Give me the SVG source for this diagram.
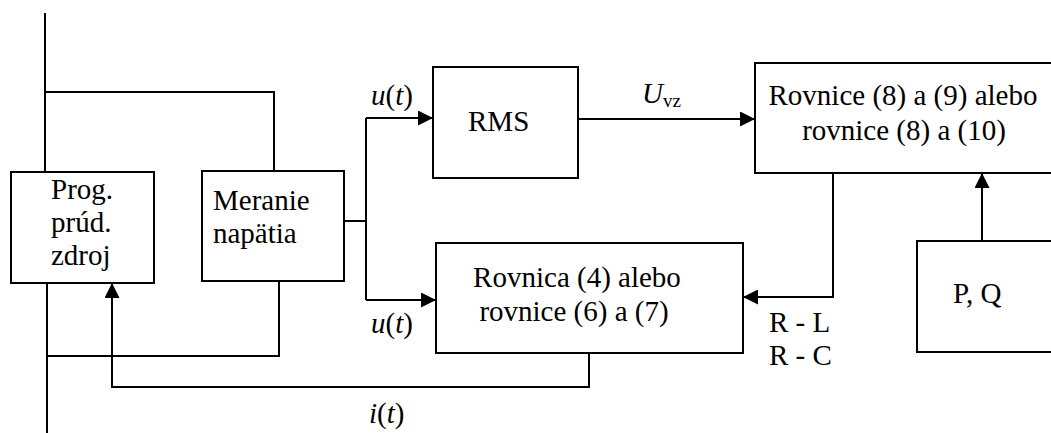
<svg xmlns="http://www.w3.org/2000/svg" width="1051" height="433" viewBox="0 0 1051 433">
<style>
.box{fill:#fff;stroke:#000;stroke-width:2}
.ln{fill:none;stroke:#000;stroke-width:2}
text{font-family:"Liberation Serif","Times New Roman",serif;font-size:29px;fill:#000}
.it{font-style:italic}
.sub{font-size:19px}
</style>
<defs>
<marker id="ah" viewBox="0 0 15 15" markerWidth="15" markerHeight="15" markerUnits="userSpaceOnUse" refX="15" refY="7.5" orient="auto">
<path d="M0,0 L15,7.5 L0,15 z" fill="#000"/>
</marker>
</defs>
<g id="connectors">
<path class="ln" d="M45,13 V172"/>
<path class="ln" d="M45,92 H274 V171"/>
<path class="ln" d="M47,283 V433"/>
<path class="ln" d="M47,356 H279 V281"/>
<path class="ln" d="M344,221 H366"/>
<path class="ln" d="M366,118 V300"/>
<path class="ln" d="M366,118 H433" marker-end="url(#ah)"/>
<path class="ln" d="M366,300 H436" marker-end="url(#ah)"/>
<path class="ln" d="M578,119 H755" marker-end="url(#ah)"/>
<path class="ln" d="M833,173 V297 H743" marker-end="url(#ah)"/>
<path class="ln" d="M982,241 V173" marker-end="url(#ah)"/>
<path class="ln" d="M589,353 V387 H112 V283" marker-end="url(#ah)"/>
</g>
<g id="prog">
<rect class="box" x="11" y="172" width="143" height="111"/>
<text x="51" y="199">Prog.</text>
<text x="51" y="232">prúd.</text>
<text x="51" y="265">zdroj</text>
</g>
<g id="meranie">
<rect class="box" x="202" y="171" width="142" height="110"/>
<text x="213" y="210">Meranie</text>
<text x="213" y="243">napätia</text>
</g>
<g id="rms">
<rect class="box" x="433" y="67" width="145" height="111"/>
<text x="468" y="131">RMS</text>
</g>
<g id="rovnica">
<rect class="box" x="436" y="243" width="307" height="110"/>
<text x="577" y="287" text-anchor="middle">Rovnica (4) alebo</text>
<text x="574" y="321" text-anchor="middle">rovnice (6) a (7)</text>
</g>
<g id="rovnice8">
<rect class="box" x="755" y="63" width="305" height="110"/>
<text x="903" y="105" text-anchor="middle">Rovnice (8) a (9) alebo</text>
<text x="904" y="140" text-anchor="middle">rovnice (8) a (10)</text>
</g>
<g id="pq">
<rect class="box" x="917" y="241" width="143" height="111"/>
<text x="953" y="303">P, Q</text>
</g>
<g id="labels">
<text x="371" y="105"><tspan class="it">u</tspan>(<tspan class="it">t</tspan>)</text>
<text x="371" y="333"><tspan class="it">u</tspan>(<tspan class="it">t</tspan>)</text>
<text x="369" y="423"><tspan class="it">i</tspan>(<tspan class="it">t</tspan>)</text>
<text x="642" y="103"><tspan class="it">U</tspan><tspan class="sub" dy="4">vz</tspan></text>
<text x="769" y="332">R - L</text>
<text x="769" y="365">R - C</text>
</g>
</svg>
